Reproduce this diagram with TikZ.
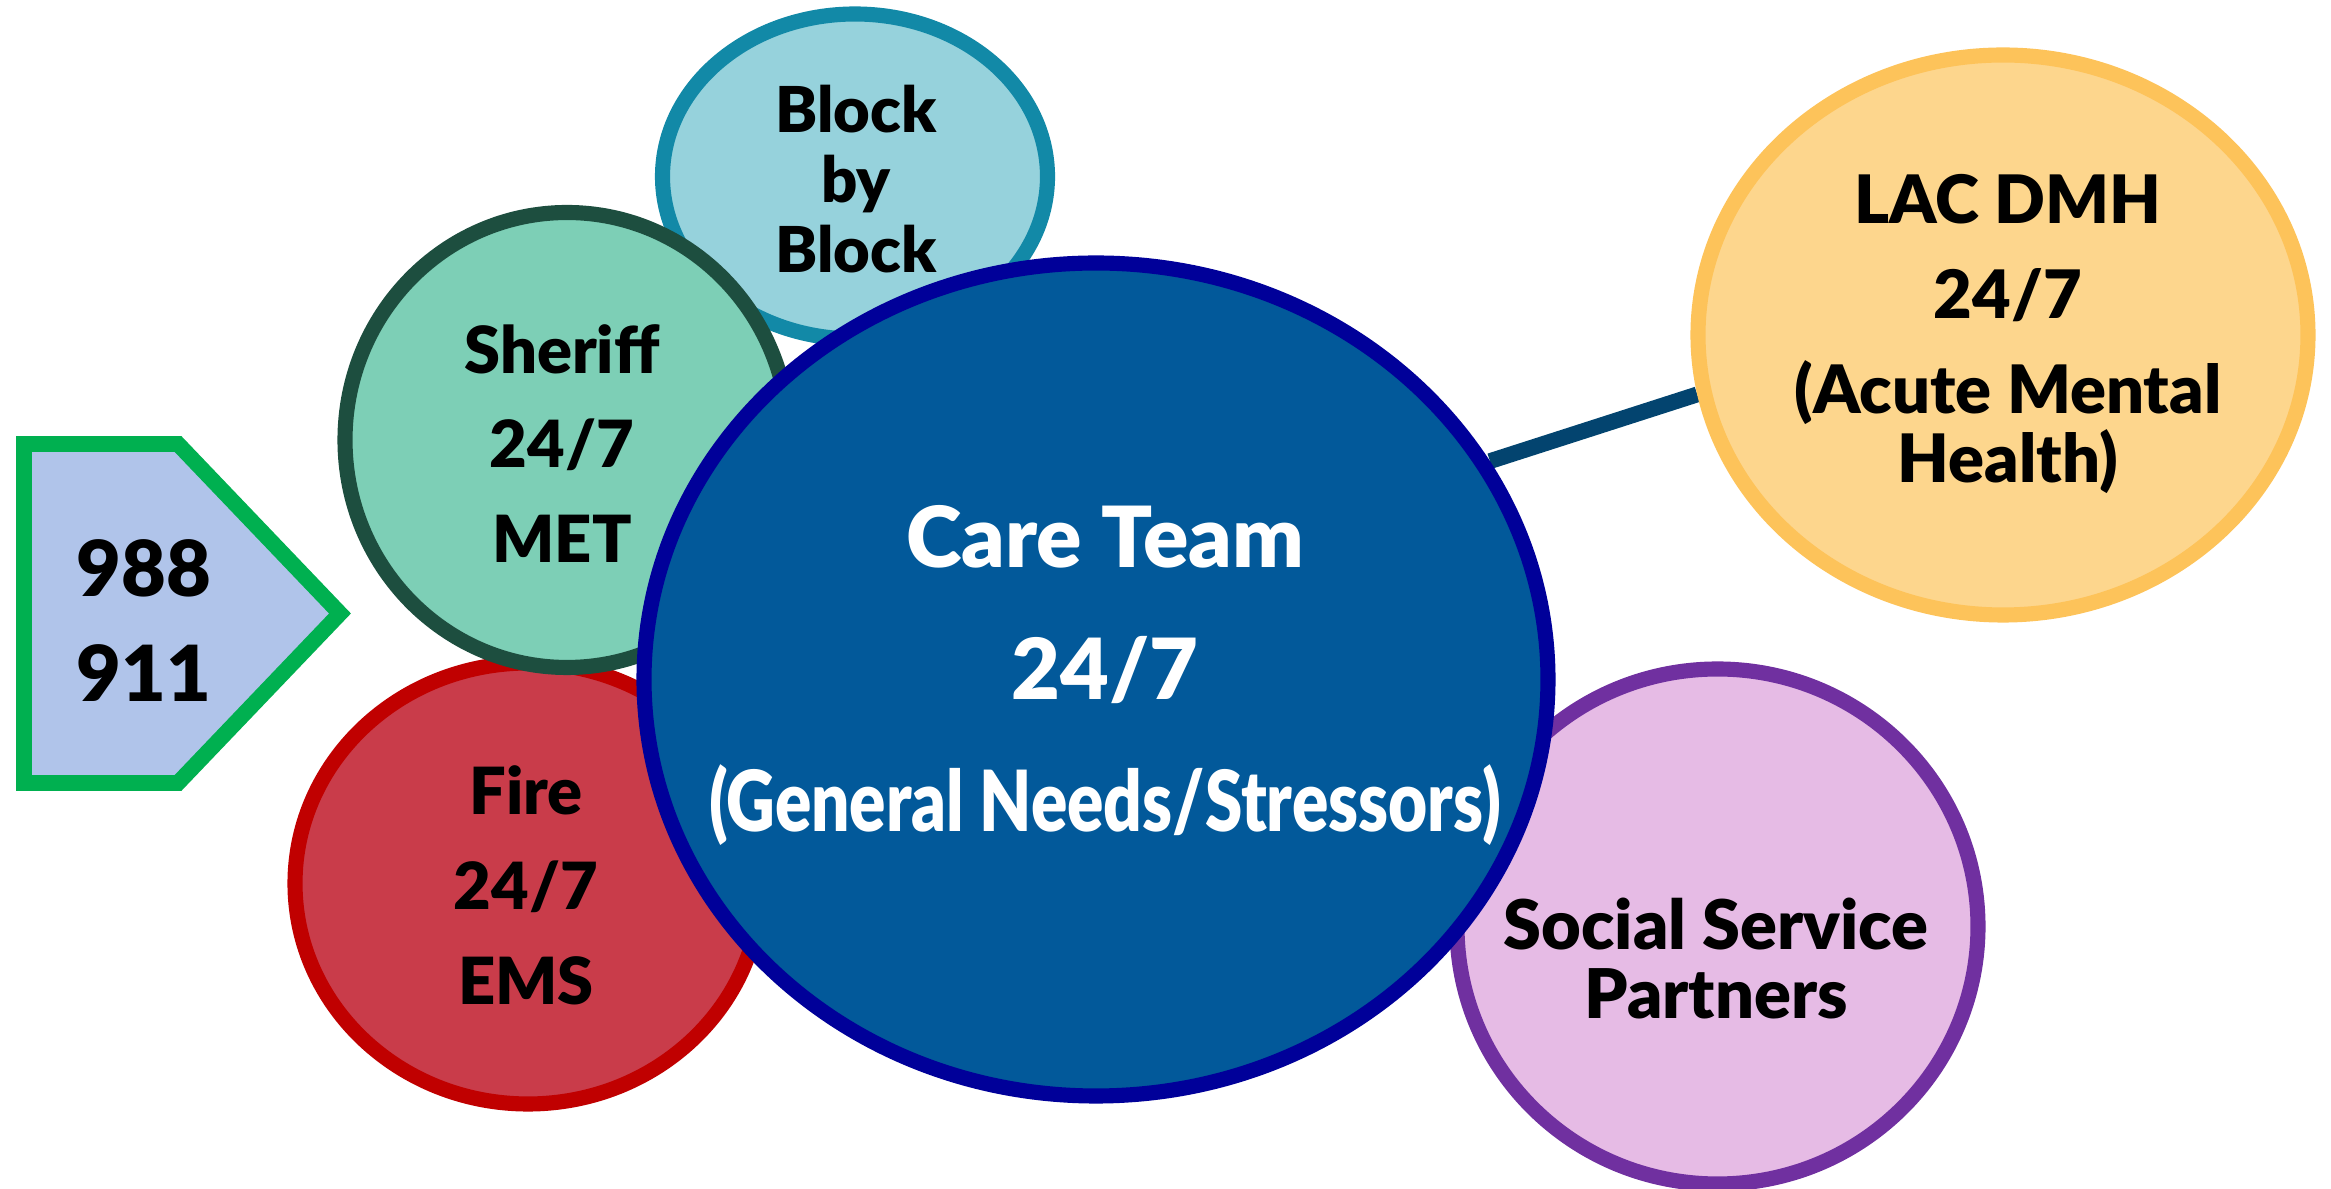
\documentclass[tikz,border=0pt]{standalone}
\usepackage{fontspec}
\setmainfont{Lato}[BoldFont={Lato Black}]
\usetikzlibrary{shapes.geometric,backgrounds}

\definecolor{arrowfill}{HTML}{B0C4EA}
\definecolor{arrowline}{HTML}{00B050}
\definecolor{blockfill}{HTML}{96D2DC}
\definecolor{blockline}{HTML}{1289A7}
\definecolor{sherifffill}{HTML}{7DCFB6}
\definecolor{sheriffline}{HTML}{1D4E3F}
\definecolor{firefill}{HTML}{C93C4A}
\definecolor{fireline}{HTML}{C00000}
\definecolor{carefill}{HTML}{02599A}
\definecolor{careline}{HTML}{000099}
\definecolor{lacfill}{HTML}{FDD68D}
\definecolor{lacline}{HTML}{FDC35A}
\definecolor{socialfill}{HTML}{E6BBE5}
\definecolor{socialline}{HTML}{7030A0}
\definecolor{linkblue}{HTML}{03446F}

\begin{document}
\begin{tikzpicture}[
    bubble/.style={ellipse, line width=4.3pt, inner sep=0pt},
    words/.style 2 args={align=center, font=\bfseries\fontsize{#1}{#2}\selectfont}
]
\useasboundingbox (0,0) rectangle (23.31,11.89);

% Side bubbles
\node[bubble, draw=blockline, fill=blockfill, minimum width=3.85cm, minimum height=3.25cm] (block) at (8.55,10.125) {};
\node[bubble, draw=fireline, fill=firefill, minimum width=4.66cm, minimum height=4.41cm] (fire) at (5.28,3.055) {};
\node[bubble, draw=sheriffline, fill=sherifffill, minimum width=4.44cm, minimum height=4.55cm] (sheriff) at (5.67,7.49) {};
\node[bubble, draw=socialline, fill=socialfill, minimum width=5.21cm, minimum height=5.15cm] (social) at (17.175,2.625) {};
\node[bubble, draw=lacline, fill=lacfill, minimum width=6.10cm, minimum height=5.60cm] (lac) at (20.03,8.54) {};
% Center bubble
\node[bubble, draw=careline, fill=carefill, minimum width=9.04cm, minimum height=8.33cm] (care) at (10.96,5.095) {};

% Link to DMH
\begin{scope}[on background layer]
    \draw[line width=4.5pt, linkblue] (care.29) -- (lac.191);
\end{scope}

% Entry arrow
\draw[line width=4.5pt, draw=arrowline, fill=arrowfill, line join=miter]
    (0.24,7.45) -- (1.78,7.45) -- (3.40,5.755) -- (1.78,4.06) -- (0.24,4.06) -- cycle;

% Texts
\node[words={22}{30}] (calls) at (1.44,5.685) {988\\911};
\node[words={18}{20}] (block-txt) at (8.56,10.10) {Block\\by\\Block};
\node[words={18.5}{27}] (sheriff-txt) at (5.62,7.455) {Sheriff\\24/7\\MET};
\node[words={18.5}{27}] (fire-txt) at (5.26,3.035) {Fire\\24/7\\EMS};
\node[words={19}{27}] (lac-txt) at (20.08,8.55) {LAC DMH\\24/7\\(Acute Mental\\[-7.5pt]Health)};
\node[words={19.5}{19.9}] (social-txt) at (17.16,2.305) {Social Service\\Partners};
\node[words={24}{37.6}, white] (care-txt) at (11.05,5.135)
    {Care Team\\24/7\\{\addfontfeature{FakeStretch=0.8}(General Needs/Stressors)}};
\end{tikzpicture}
\end{document}
